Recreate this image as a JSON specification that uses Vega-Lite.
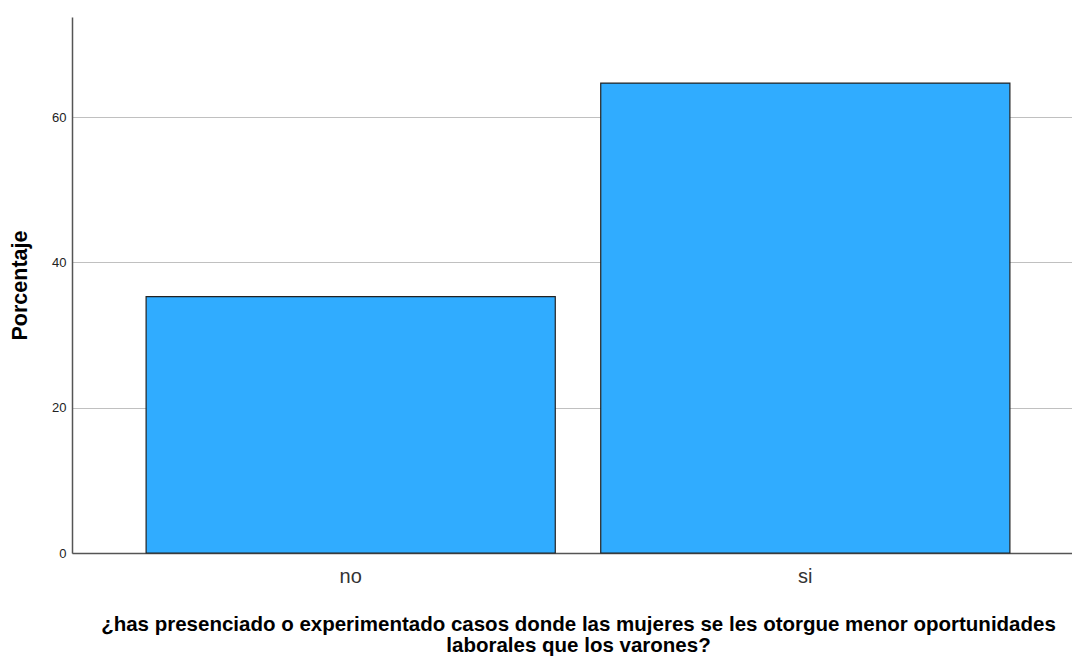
{
  "$schema": "https://vega.github.io/schema/vega-lite/v6.json",
  "autosize": "none",
  "padding": {"left": 72, "top": 17, "right": -12, "bottom": 106},
  "width": 1012,
  "height": 536,
  "background": "white",
  "config": {"view": {"stroke": null}},
  "data": {"values": [
    {"respuesta": "no", "porcentaje": 35.3},
    {"respuesta": "si", "porcentaje": 64.7}
  ]},
  "mark": {"type": "bar", "fill": "#30acff", "stroke": "#222222", "strokeWidth": 1.2},
  "encoding": {
    "x": {
      "field": "respuesta", "type": "nominal",
      "scale": {"paddingInner": 0.1, "paddingOuter": 0.163},
      "axis": {
        "title": ["¿has presenciado o experimentado casos donde las mujeres se les otorgue menor oportunidades", "laborales que los varones?"],
        "titleFont": "Liberation Sans", "titleFontSize": 20.5, "titleFontWeight": "bold", "titleColor": "#000000",
        "titlePadding": 28, "titleLineHeight": 21, "titleX": 506,
        "labelAngle": 0, "labelFont": "Liberation Sans", "labelFontSize": 20, "labelColor": "#333333", "labelPadding": 13,
        "ticks": false, "domainColor": "#555555", "domainWidth": 1.5
      }
    },
    "y": {
      "field": "porcentaje", "type": "quantitative",
      "scale": {"domain": [0, 73.8], "nice": false},
      "axis": {
        "title": "Porcentaje", "titleFont": "Liberation Sans", "titleFontSize": 21.5, "titleFontWeight": "bold", "titleColor": "#000000",
        "titlePadding": 20,
        "values": [0, 20, 40, 60],
        "labelFont": "Liberation Sans", "labelFontSize": 13, "labelColor": "#222222", "labelPadding": 6,
        "ticks": false, "domainColor": "#555555", "domainWidth": 1.5,
        "grid": true, "gridColor": "#c0c0c0", "gridWidth": 1.2
      }
    }
  }
}
